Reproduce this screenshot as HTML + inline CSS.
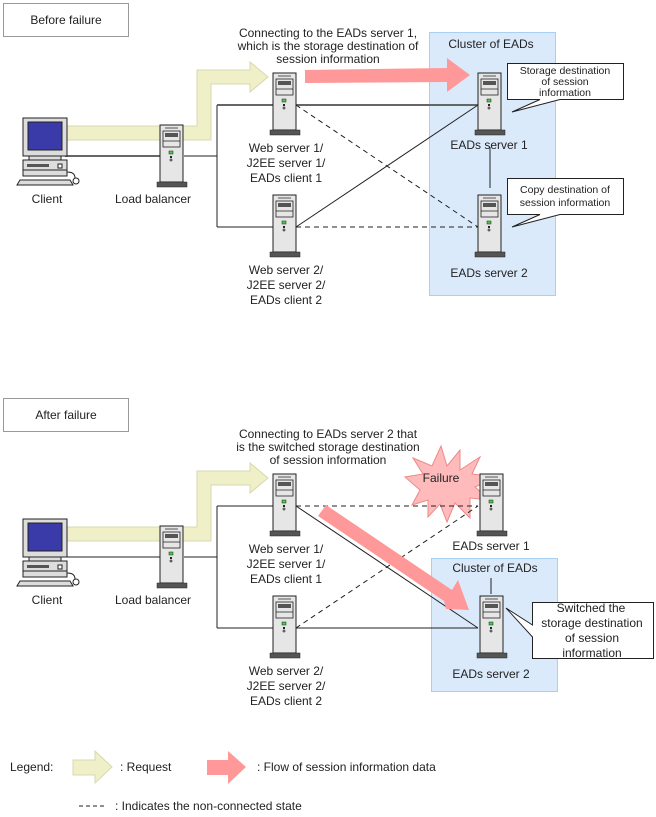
<!DOCTYPE html>
<html><head><meta charset="utf-8"><style>
html,body{margin:0;padding:0;background:#fff}
svg{display:block}
text{font-family:"Liberation Sans",sans-serif;font-size:12px;fill:#222}
.s{font-size:10.5px}
</style></head><body>
<svg width="656" height="817" viewBox="0 0 656 817" xmlns="http://www.w3.org/2000/svg">
<defs>
<g id="srv">
<rect x="0" y="0" width="23" height="57" fill="#e6e6e6" stroke="#222" stroke-width="1"/>
<line x1="5" y1="3" x2="18" y2="3" stroke="#555"/>
<rect x="3" y="6" width="17" height="16" fill="#e6e6e6" stroke="#222" stroke-width="0.8"/>
<rect x="5" y="8" width="13" height="4" fill="#555"/>
<line x1="3" y1="16" x2="20" y2="16" stroke="#222" stroke-width="0.8"/>
<rect x="9" y="26" width="4" height="3" fill="#4c4" stroke="#222" stroke-width="0.5"/>
<rect x="10" y="31" width="2" height="2" fill="#222"/>
<circle cx="11" cy="35" r="1" fill="none" stroke="#222" stroke-width="0.7"/>
<rect x="-3" y="57" width="30" height="5" fill="#555" stroke="#222" stroke-width="0.5"/>
</g>
<g id="pc">
<rect x="6" y="0" width="44" height="38" fill="#ddd" stroke="#222"/>
<rect x="11" y="4" width="34" height="28" fill="#3a3aa8" stroke="#222"/>
<rect x="12" y="38" width="32" height="4" fill="#ddd" stroke="#222"/>
<rect x="6" y="42" width="44" height="16" fill="#ddd" stroke="#222"/>
<rect x="10" y="46" width="22" height="3" fill="#555"/>
<rect x="41" y="46" width="4" height="4" fill="#fff" stroke="#222"/>
<line x1="6" y1="52" x2="50" y2="52" stroke="#222"/>
<polygon points="3,62 53,62 56,67 0,67" fill="#ddd" stroke="#222"/>
<path d="M50,54 Q58,54 58,60" fill="none" stroke="#222"/>
<circle cx="59" cy="63" r="3" fill="#fff" stroke="#222"/>
</g>
</defs>

<!-- ===== TOP ===== -->
<rect x="3.5" y="3.5" width="125" height="33" fill="#fff" stroke="#999"/>
<text x="66" y="24" text-anchor="middle">Before failure</text>

<rect x="429.5" y="32.5" width="126" height="263" fill="#dbeafb" stroke="#a9cff3"/>
<text x="491" y="48" text-anchor="middle">Cluster of EADs</text>

<!-- lines -->
<g stroke="#222" stroke-width="1" fill="none">
<line x1="65" y1="156" x2="160" y2="156" stroke="#666" stroke-width="2"/>
<line x1="184" y1="156" x2="217" y2="156"/>
<line x1="217" y1="105" x2="217" y2="227"/>
<line x1="217" y1="105" x2="273" y2="105" stroke="#666" stroke-width="2"/>
<line x1="217" y1="227" x2="273" y2="227"/>
<line x1="296" y1="105" x2="478" y2="105" stroke="#666" stroke-width="2"/>
<line x1="296" y1="227" x2="478" y2="105"/>
<line x1="296" y1="105" x2="478" y2="227" stroke-dasharray="5,4"/>
<line x1="296" y1="227" x2="478" y2="227" stroke-dasharray="5,4"/>
<line x1="490" y1="147" x2="490" y2="188"/>
</g>

<polygon points="65,126 197,126 197,70 250,70 250,62 268,77 250,92 250,84 211,84 211,140 65,140" fill="#f0f0c8" stroke="#d8d8b0"/>
<polygon points="305,70 447,68 447,58 470,75 447,92 447,82 305,83" fill="#f99"/>

<text x="328" y="37" text-anchor="middle">Connecting to the EADs server 1,</text>
<text x="328" y="50" text-anchor="middle">which is the storage destination of</text>
<text x="328" y="63" text-anchor="middle">session information</text>

<use href="#pc" x="17" y="118"/>
<text x="47" y="203" text-anchor="middle">Client</text>
<use href="#srv" x="160" y="125"/>
<text x="153" y="203" text-anchor="middle">Load balancer</text>
<use href="#srv" x="273" y="73"/>
<text x="286" y="152" text-anchor="middle">Web server 1/</text>
<text x="286" y="167" text-anchor="middle">J2EE server 1/</text>
<text x="286" y="182" text-anchor="middle">EADs client 1</text>
<use href="#srv" x="273" y="195"/>
<text x="286" y="274" text-anchor="middle">Web server 2/</text>
<text x="286" y="289" text-anchor="middle">J2EE server 2/</text>
<text x="286" y="304" text-anchor="middle">EADs client 2</text>
<use href="#srv" x="478" y="73"/>
<text x="489" y="149" text-anchor="middle">EADs server 1</text>
<use href="#srv" x="478" y="195"/>
<text x="489" y="277" text-anchor="middle">EADs server 2</text>

<polygon points="507.5,63.5 623.5,63.5 623.5,99.5 560,99.5 512,112 540,99.5 507.5,99.5" fill="#fff" stroke="#222"/>
<text class="s" x="565" y="74" text-anchor="middle">Storage destination</text>
<text class="s" x="565" y="85" text-anchor="middle">of session</text>
<text class="s" x="565" y="96" text-anchor="middle">information</text>
<polygon points="507.5,178.5 623.5,178.5 623.5,214.5 560,214.5 512,227 540,214.5 507.5,214.5" fill="#fff" stroke="#222"/>
<text class="s" x="565" y="193" text-anchor="middle">Copy destination of</text>
<text class="s" x="565" y="206" text-anchor="middle">session information</text>

<!-- ===== BOTTOM ===== -->
<rect x="3.5" y="398.5" width="125" height="33" fill="#fff" stroke="#999"/>
<text x="66" y="419" text-anchor="middle">After failure</text>

<rect x="431.5" y="558.5" width="126" height="133" fill="#dbeafb" stroke="#a9cff3"/>
<text x="495" y="572" text-anchor="middle">Cluster of EADs</text>

<polygon points="441,446 447,466 460,450 460,470 480,457 472,474 497,477 475,487 490,500 470,498 470,518 455,503 447,522 440,504 428,517 428,500 412,505 420,490 405,477 423,474 413,458 432,466" fill="#fbb" stroke="#e88"/>
<text x="441" y="482" text-anchor="middle">Failure</text>

<g stroke="#222" stroke-width="1" fill="none">
<line x1="65" y1="557" x2="160" y2="557"/>
<line x1="184" y1="557" x2="217" y2="557"/>
<line x1="217" y1="506" x2="217" y2="628"/>
<line x1="217" y1="506" x2="273" y2="506"/>
<line x1="217" y1="628" x2="273" y2="628"/>
<line x1="296" y1="506" x2="478" y2="506" stroke-dasharray="5,4"/>
<line x1="296" y1="628" x2="478" y2="506" stroke-dasharray="5,4"/>
<line x1="296" y1="506" x2="478" y2="628"/>
<line x1="296" y1="628" x2="478" y2="628"/>
<line x1="491" y1="578" x2="491" y2="594"/>
</g>

<polygon points="65,527 197,527 197,471 250,471 250,463 268,478 250,493 250,485 211,485 211,541 65,541" fill="#f0f0c8" stroke="#d8d8b0"/>
<polygon points="318,516 326,505 452,590 458,580 469,610 446,609 444,601" fill="#f99"/>

<text x="328" y="438" text-anchor="middle">Connecting to EADs server 2 that</text>
<text x="328" y="451" text-anchor="middle">is the switched storage destination</text>
<text x="328" y="464" text-anchor="middle">of session information</text>

<use href="#pc" x="17" y="519"/>
<text x="47" y="604" text-anchor="middle">Client</text>
<use href="#srv" x="160" y="526"/>
<text x="153" y="604" text-anchor="middle">Load balancer</text>
<use href="#srv" x="273" y="474"/>
<text x="286" y="553" text-anchor="middle">Web server 1/</text>
<text x="286" y="568" text-anchor="middle">J2EE server 1/</text>
<text x="286" y="583" text-anchor="middle">EADs client 1</text>
<use href="#srv" x="273" y="596"/>
<text x="286" y="675" text-anchor="middle">Web server 2/</text>
<text x="286" y="690" text-anchor="middle">J2EE server 2/</text>
<text x="286" y="705" text-anchor="middle">EADs client 2</text>
<use href="#srv" x="480" y="474"/>
<text x="491" y="550" text-anchor="middle">EADs server 1</text>
<use href="#srv" x="480" y="596"/>
<text x="491" y="678" text-anchor="middle">EADs server 2</text>

<polygon points="532.5,602.5 653.5,602.5 653.5,658.5 532.5,658.5 532.5,637 506,608 532.5,625" fill="#fff" stroke="#222"/>
<text x="591" y="612" text-anchor="middle">Switched the</text>
<text x="592" y="627" text-anchor="middle">storage destination</text>
<text x="592" y="642" text-anchor="middle">of session</text>
<text x="592" y="657" text-anchor="middle">information</text>

<!-- legend -->
<text x="10" y="771">Legend:</text>
<polygon points="73,760 95,760 95,751 112,767 95,783 95,775 73,775" fill="#f0f0c8" stroke="#d8d8b0"/>
<text x="120" y="771">: Request</text>
<polygon points="207,760 228,760 228,751 246,767 228,784 228,775 207,775" fill="#f99"/>
<text x="257" y="771">: Flow of session information data</text>
<line x1="79" y1="806" x2="104" y2="806" stroke="#222" stroke-dasharray="4,3"/>
<text x="115" y="810">: Indicates the non-connected state</text>
</svg>
</body></html>
